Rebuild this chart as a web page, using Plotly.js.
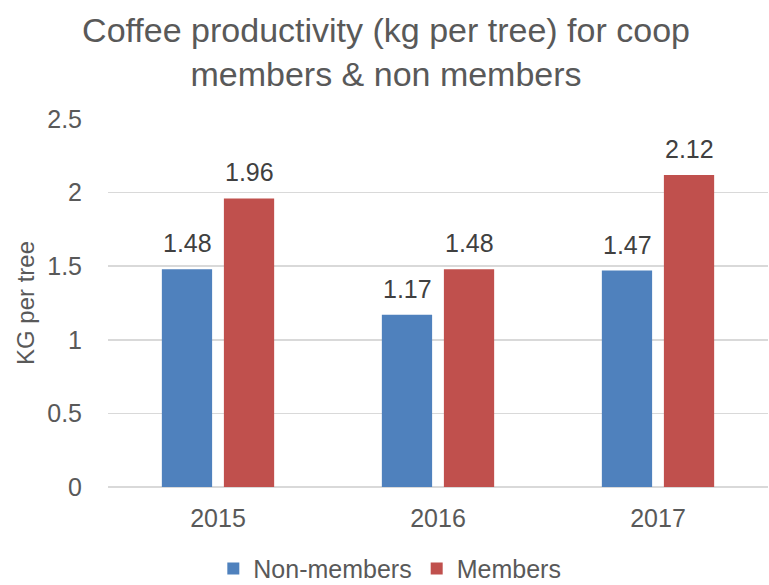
<!DOCTYPE html>
<html>
<head>
<meta charset="utf-8">
<script src="https://cdn.plot.ly/plotly-3.0.1.min.js"></script>
<style>html,body{margin:0;padding:0;background:#fff;}#chart{width:769px;height:585px;}</style>
</head>
<body>
<div id="chart"></div>
<script>
const years = ['2015', '2016', '2017'];
const nonMembers = [1.48, 1.17, 1.47];
const members = [1.96, 1.48, 2.12];
const seriesNames = ['Non-members', 'Members'];
const yTicks = [0, 0.5, 1, 1.5, 2, 2.5];

const FONT = '"Liberation Sans", Arial, sans-serif';
const colors = ['#4F81BD', '#C0504D'];

const traces = [nonMembers, members].map((vals, i) => ({
  type: 'bar',
  name: seriesNames[i],
  x: years,
  y: vals,
  marker: {color: colors[i]}
}));

// data labels: on a category axis a numeric x is the category index
const annotations = [];
[nonMembers, members].forEach((vals, i) => {
  vals.forEach((v, j) => {
    annotations.push({
      x: j, y: v, xref: 'x', yref: 'y',
      text: String(v), showarrow: false,
      xshift: i === 0 ? -31 : 31, yanchor: 'bottom', yshift: 10,
      font: {family: FONT, size: 25, color: '#404040'}
    });
  });
});

const layout = {
  width: 769, height: 585,
  margin: {l: 108, r: 1, t: 119, b: 98, autoexpand: false},
  paper_bgcolor: '#fff', plot_bgcolor: '#fff',
  font: {family: FONT, color: '#595959'},
  title: {
    text: 'Coffee productivity (kg per tree) for coop<br>members &amp; non members',
    font: {family: FONT, size: 34, color: '#595959'},
    x: 0.502, xanchor: 'center', xref: 'container',
    y: 0.928, yref: 'container'
  },
  barmode: 'group',
  bargap: 0.436,
  bargroupgap: 0.19,
  xaxis: {
    type: 'category',
    range: [-0.5, 2.5],
    tickfont: {family: FONT, size: 25, color: '#595959'},
    showgrid: false, showline: false, zeroline: false,
    ticks: 'outside', ticklen: 9, tickcolor: 'rgba(0,0,0,0)'
  },
  yaxis: {
    range: [0, 2.5],
    tickvals: yTicks,
    ticktext: yTicks.map(String),
    tickfont: {family: FONT, size: 25, color: '#595959'},
    showgrid: true, gridcolor: '#d9d9d9', gridwidth: 1.5,
    zeroline: true, zerolinecolor: '#d9d9d9', zerolinewidth: 1.5,
    showline: false, ticks: 'outside', ticklen: 20, tickcolor: 'rgba(0,0,0,0)',
    title: {text: 'KG per tree', font: {family: FONT, size: 24, color: '#595959'}, standoff: 5}
  },
  legend: {
    orientation: 'h', x: 0.427, xanchor: 'center', y: -0.222, yanchor: 'middle',
    font: {family: FONT, size: 25, color: '#595959'},
    traceorder: 'normal'
  },
  annotations: annotations,
  showlegend: true
};

Plotly.newPlot('chart', traces, layout, {displayModeBar: false, staticPlot: true});
</script>
</body>
</html>
